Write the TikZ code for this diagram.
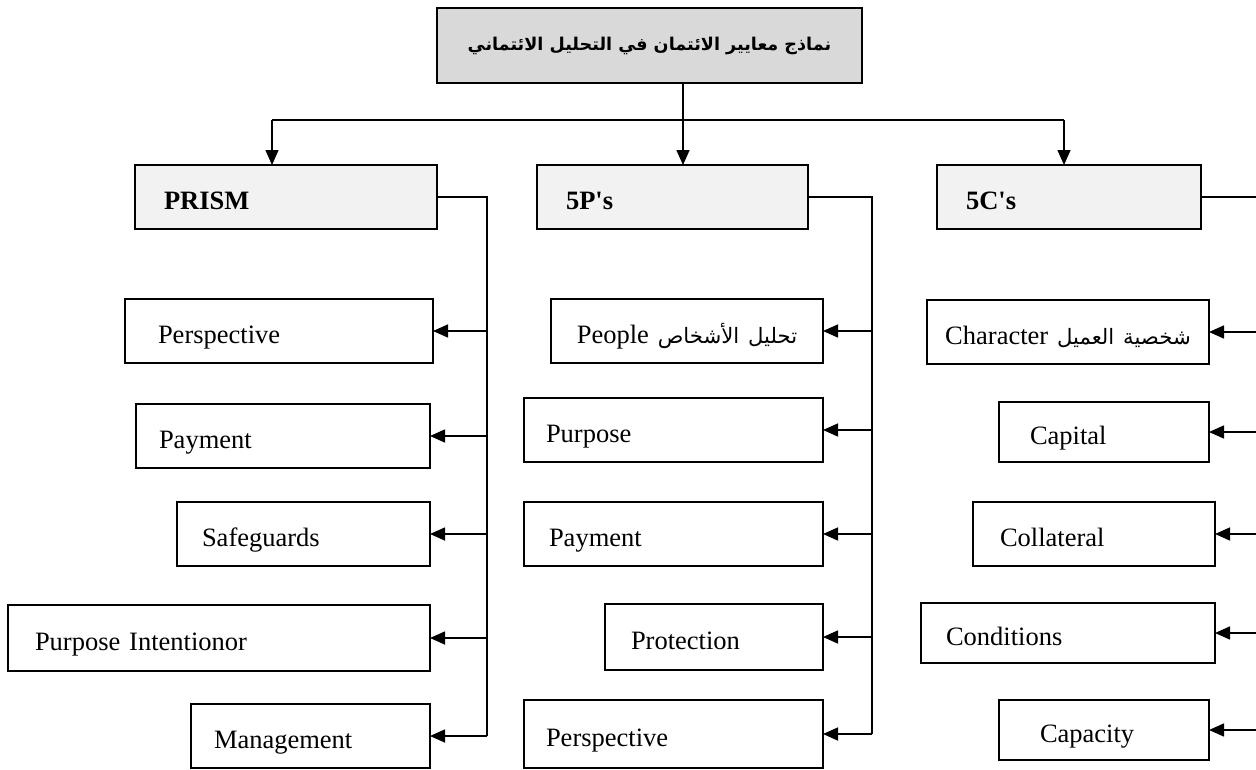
\documentclass[tikz,border=0pt]{standalone}
\usepackage{fontspec}
\setmainfont{Liberation Serif}
\newfontfamily\arabicfont[Script=Arabic,Scale=0.8]{DejaVu Sans}
\TeXXeTstate=1
\usetikzlibrary{arrows.meta}
\definecolor{TitleGray}{HTML}{D9D9D9}
\definecolor{HeadGray}{HTML}{F2F2F2}
\tikzset{
    % Box styles with sharp corners
    title box/.style={
        rectangle,
        draw=black,
        fill=TitleGray,
        line width=1.8pt,
        minimum width=425pt,
        minimum height=75pt,
        outer sep=0pt,
        align=center,
        font=\fontsize{22}{26}\selectfont
    },
    header box/.style={
        rectangle,
        draw=black,
        fill=HeadGray,
        line width=1.8pt,
        anchor=west,
        align=left,
        inner xsep=29pt,
        inner ysep=0pt,
        text height=24pt,
        text depth=0pt,
        minimum height=64pt,
        outer sep=0pt,
        font=\fontsize{26.5}{30}\selectfont\bfseries
    },
    leaf box/.style={
        rectangle,
        draw=black,
        fill=white,
        line width=1.8pt,
        anchor=west,
        align=left,
        inner ysep=0pt,
        text height=24pt,
        text depth=0pt,
        minimum height=64pt,
        outer sep=0pt,
        font=\fontsize{26.5}{30}\selectfont
    },
    arrow style/.style={
        -{Triangle[length=15pt,width=13pt]},
        line width=1.6pt,
        black
    },
    line style/.style={
        line width=1.6pt,
        black
    }
}

\begin{document}
\begin{tikzpicture}[x=1pt, y=-1pt]
    \useasboundingbox (0,0) rectangle (1256,769);

    % Title
    \node[title box] (title) at (649.5,45.5) {\arabicfont\bfseries\beginR نماذج معايير الائتمان في التحليل الائتماني\endR};

    % Model headers
    \node[header box, text width=244pt] (prism) at (135,197) {PRISM};
    \node[header box, text width=213pt] (fivep) at (537,197) {5P\textquotesingle s};
    \node[header box, text width=206pt] (fivec) at (937,197) {5C\textquotesingle s};

    % PRISM criteria
    \node[leaf box, inner xsep=33pt, text width=242pt, minimum height=64pt] (pr1) at (125,331) {Perspective};
    \node[leaf box, inner xsep=23pt, text width=248pt, minimum height=64pt] (pr2) at (136,436) {Payment};
    \node[leaf box, inner xsep=25pt, text width=203pt, minimum height=64pt] (pr3) at (177,534) {Safeguards};
    \node[leaf box, inner xsep=27pt, text width=368pt, minimum height=66pt] (pr4) at (8,638) {Purpose Intentionor};
    \node[leaf box, inner xsep=23pt, text width=193pt, minimum height=64pt] (pr5) at (191,736) {Management};

    % 5P's criteria
    \node[leaf box, inner xsep=15pt, text width=242pt, align=center, minimum height=64pt] (pp1) at (551,331) {People {\arabicfont\beginR تحليل الأشخاص\endR}};
    \node[leaf box, inner xsep=22pt, text width=255pt, minimum height=64pt] (pp2) at (524,430) {Purpose};
    \node[leaf box, inner xsep=25pt, text width=249pt, minimum height=64pt] (pp3) at (524,534) {Payment};
    \node[leaf box, inner xsep=26pt, text width=166pt, minimum height=66pt] (pp4) at (605,637) {Protection};
    \node[leaf box, inner xsep=22pt, text width=255pt, minimum height=68pt] (pp5) at (524,734) {Perspective};

    % 5C's criteria
    \node[leaf box, inner xsep=15pt, text width=252pt, align=center, minimum height=64pt] (pc1) at (927,332) {Character {\arabicfont\beginR شخصية العميل\endR}};
    \node[leaf box, inner xsep=31pt, text width=148pt, minimum height=60pt] (pc2) at (999,432) {Capital};
    \node[leaf box, inner xsep=27pt, text width=188pt, minimum height=64pt] (pc3) at (973,534) {Collateral};
    \node[leaf box, inner xsep=25pt, text width=244pt, minimum height=60pt] (pc4) at (921,633) {Conditions};
    \node[leaf box, inner xsep=41pt, text width=128pt, minimum height=60pt] (pc5) at (999,730) {Capacity};

    % Branch points
    \coordinate (busL) at (272,120);
    \coordinate (busM) at (683,120);
    \coordinate (busR) at (1064,120);
    \coordinate (spineA) at (487,0);
    \coordinate (spineB) at (872,0);
    \coordinate (spineC) at (1262,0);

    % Title to models
    \draw[line style] (title.south -| busM) -- (busM);
    \draw[line style] (busL) -- (busR);
    \draw[arrow style] (busL) -- (busL |- prism.north);
    \draw[arrow style] (busM) -- (busM |- fivep.north);
    \draw[arrow style] (busR) -- (busR |- fivec.north);

    % Models to criteria
    \draw[line style] (prism.east) -| (spineA |- pr5.east);
    \draw[line style] (fivep.east) -| (spineB |- pp5.east);
    \draw[line style] (fivec.east) -| (spineC |- pc5.east);
    \foreach \n in {pr1,pr2,pr3,pr4,pr5}
        \draw[arrow style] (spineA |- \n.east) -- (\n.east);
    \foreach \n in {pp1,pp2,pp3,pp4,pp5}
        \draw[arrow style] (spineB |- \n.east) -- (\n.east);
    \foreach \n in {pc1,pc2,pc3,pc4,pc5}
        \draw[arrow style] (spineC |- \n.east) -- (\n.east);
\end{tikzpicture}
\end{document}
